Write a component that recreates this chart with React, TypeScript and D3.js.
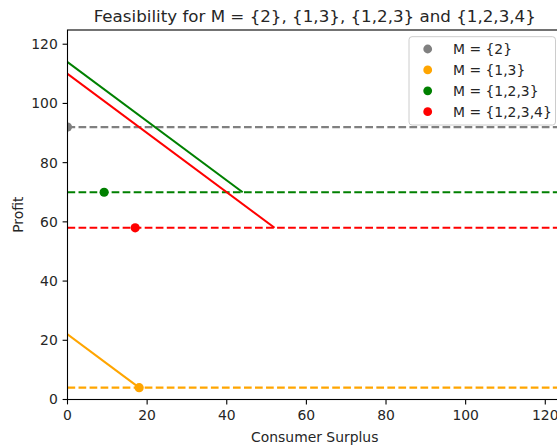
import React from "react";
import * as d3 from "d3";

const labels = ["M = {2}", "M = {1,3}", "M = {1,2,3}", "M = {1,2,3,4}"];
const colors = ["gray", "orange", "green", "red"];
// horizontal (dashed) feasibility levels
const levels = [92, 4, 70, 58];
// solid segments: [x0, y0, x1, y1] (null if none)
const segments: (number[] | null)[] = [null, [0, 22, 18, 4], [0, 114, 44, 70], [0, 110, 52, 58]];
// scatter points [x, y]
const points = [[0, 92], [18, 4], [9.2, 70], [17, 58]];
const xTicks = [0, 20, 40, 60, 80, 100, 120];
const yTicks = [0, 20, 40, 60, 80, 100, 120];

const W = 557, H = 446;
const L = 67.5, R = 562, T = 30, B = 399.5;

export default function App() {
  const x = d3.scaleLinear().domain([0, 124.2]).range([L, R]);
  const y = d3.scaleLinear().domain([0, 124.8]).range([B, T]);
  const font = "DejaVu Sans, sans-serif";
  const line = d3.line<number[]>().x(d => x(d[0])).y(d => y(d[1]));
  return (
    <svg width={W} height={H} style={{ position: "absolute", left: 0, top: 0 }} fontFamily={font}>
      <rect width={W} height={H} fill="white" />
      <defs>
        <clipPath id="ax">
          <rect x={L} y={T} width={R - L} height={B - T} />
        </clipPath>
      </defs>
      <g clipPath="url(#ax)">
        {levels.map((v, i) => (
          <line key={"h" + i} x1={L} x2={R} y1={y(v)} y2={y(v)} stroke={colors[i]} strokeWidth={2.08} strokeDasharray="7.7,3.33" />
        ))}
        {segments.map((s, i) => s ? (
          <path key={"s" + i} d={line([[s[0], s[1]], [s[2], s[3]]]) || ""} stroke={colors[i]} strokeWidth={2.08} fill="none" />
        ) : null)}
        {points.map((p, i) => (
          <circle key={"p" + i} cx={x(p[0])} cy={y(p[1])} r={4.6} fill={colors[i]} />
        ))}
      </g>
      {/* spines */}
      <rect x={L} y={T} width={R - L} height={B - T} fill="none" stroke="black" strokeWidth={1.1} />
      {xTicks.map(t => (
        <g key={"xt" + t}>
          <line x1={x(t)} x2={x(t)} y1={B} y2={B + 4.9} stroke="black" strokeWidth={1.1} />
          <text x={x(t)} y={B + 9.7} dy="0.8em" textAnchor="middle" fontSize={13.9} fill="#262626">{t}</text>
        </g>
      ))}
      {yTicks.map(t => (
        <g key={"yt" + t}>
          <line x1={L - 4.9} x2={L} y1={y(t)} y2={y(t)} stroke="black" strokeWidth={1.1} />
          <text x={L - 9.7} y={y(t)} dy="0.35em" textAnchor="end" fontSize={13.9} fill="#262626">{t}</text>
        </g>
      ))}
      <text x={(L + R) / 2} y={442} textAnchor="middle" fontSize={13.9} fill="#262626">Consumer Surplus</text>
      <text transform={`translate(23,${(T + B) / 2}) rotate(-90)`} textAnchor="middle" fontSize={13.9} fill="#262626">Profit</text>
      <text x={(L + R) / 2} y={22} textAnchor="middle" fontSize={16.7} fill="#262626">Feasibility for M = {"{2}"}, {"{1,3}"}, {"{1,2,3}"} and {"{1,2,3,4}"}</text>
      {/* legend */}
      <rect x={409} y={36.7} width={146.5} height={88.3} rx={3} fill="white" fillOpacity={0.8} stroke="#cccccc" strokeWidth={1} />
      {labels.map((lab, i) => (
        <g key={"lg" + i}>
          <circle cx={427.7} cy={49 + i * 20.9} r={4.4} fill={colors[i]} />
          <text x={453} y={49 + i * 20.9} dy="0.35em" fontSize={13.9} fill="#262626">{lab}</text>
        </g>
      ))}
    </svg>
  );
}
